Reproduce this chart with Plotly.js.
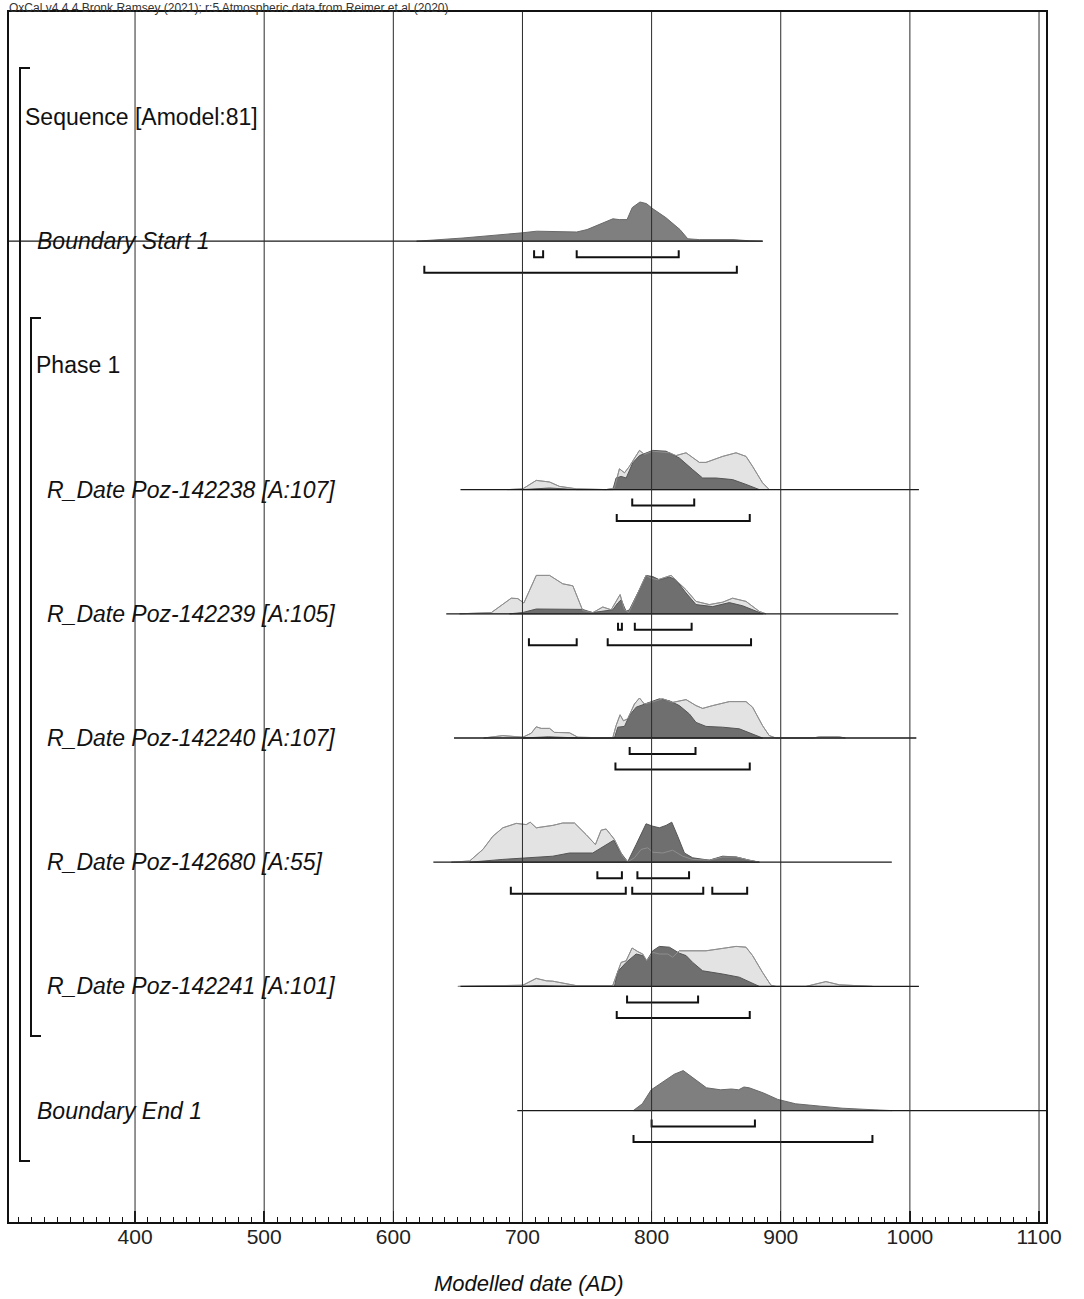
<!DOCTYPE html>
<html><head><meta charset="utf-8">
<script src="https://cdn.plot.ly/plotly-3.0.1.min.js"></script>
<style>html,body{margin:0;padding:0;background:#fff;}#chart{width:1084px;height:1299px;}</style>
</head><body><div id="chart"></div>
<script>
// ---------------- DATA ----------------
const xTickValues = [400, 500, 600, 700, 800, 900, 1000, 1100];
const headerText = "OxCal v4.4.4 Bronk Ramsey (2021); r:5 Atmospheric data from Reimer et al (2020)";
const axisTitle = "Modelled date (AD)";
const groupLabels = ["Sequence [Amodel:81]", "Phase 1"];
const itemLabels = ["Boundary Start 1", "R_Date Poz-142238 [A:107]", "R_Date Poz-142239 [A:105]",
  "R_Date Poz-142240 [A:107]", "R_Date Poz-142680 [A:55]", "R_Date Poz-142241 [A:101]", "Boundary End 1"];

// Boundary Start 1 (posterior, % of peak)
const startYears = [618, 654, 700, 711, 742, 750, 770, 775, 781, 785, 791, 796, 801, 811, 822, 828, 837, 863, 876, 886];
const startPost  = [0, 8, 21, 25, 23, 29, 56, 54, 54, 84, 98, 94, 81, 59, 29, 6, 4, 4, 1, 0];
const startLine = [250, 886];
const start68 = [[709, 716], [742, 821]];
const start95 = [[624, 866]];

// R_Date Poz-142238
const r238LikeYears = [688.5, 700.3, 710.7, 721.0, 728.7, 741.6, 764.8, 771.2, 775.1, 779.0, 782.8, 790.6, 794.4, 800.9, 813.8, 818.9, 826.7, 837.0, 842.1, 855.0, 865.4, 873.1, 878.2, 885.9, 891.1];
const r238Like = [0, 2, 23, 19, 8, 2, 0, 4, 52, 42, 58, 98, 88, 96, 92, 85, 92, 68, 68, 83, 92, 83, 58, 17, 0];
const r238PostYears = [700, 721, 742, 770, 772.5, 776.4, 780.3, 785.4, 790.6, 800.9, 811.2, 821.5, 831.8, 839.5, 849.9, 862.7, 873.1, 883.4];
const r238Post = [0, 4, 0, 0, 29, 33, 29, 67, 85, 98, 96, 79, 50, 29, 29, 25, 13, 0];
const r238Line = [652, 1007];
const r238_68 = [[785, 833]];
const r238_95 = [[773, 876]];

// R_Date Poz-142239
const r239LikeYears = [651.4, 675.9, 691.3, 696.4, 701.1, 710.7, 721.0, 731.2, 739.0, 746.7, 754.5, 762.2, 768.7, 772.5, 775.6, 779.0, 782.3, 788.0, 795.7, 799.6, 804.7, 815.1, 826.7, 834.4, 844.7, 855.0, 862.7, 873.1, 883.4, 888.5];
const r239Like = [0, 3, 39, 38, 27, 96, 96, 75, 70, 8, 3, 17, 10, 31, 48, 10, 3, 43, 96, 89, 85, 96, 60, 31, 23, 29, 39, 31, 6, 0];
const r239PostYears = [690, 700, 710.7, 746.5, 754.2, 769.9, 773.8, 776.4, 780.3, 782.8, 790.6, 795.7, 800.9, 806.1, 813.8, 818.9, 826.7, 834.4, 847.3, 860.2, 870.5, 880.8, 886.0];
const r239Post = [0, 3, 12, 11, 3, 10, 27, 35, 6, 10, 60, 96, 93, 85, 92, 85, 52, 23, 18, 28, 20, 6, 0];
const r239Line = [641, 991];
const r239_68 = [[774, 777], [787, 831]];
const r239_95 = [[705, 742], [766, 877]];

// R_Date Poz-142240
const r240LikeYears = [670, 684.8, 700.3, 706.8, 710.7, 714.5, 721.0, 724.8, 736.4, 742.9, 769.9, 772.5, 775.6, 778.2, 781.5, 786.7, 790.6, 794.4, 799.6, 808.6, 816.3, 826.7, 834.4, 839.5, 847.3, 860.2, 873.1, 878.2, 885.9, 891.1, 896.3, 925, 930, 945, 950];
const r240Like = [0, 6, 2, 12, 28, 24, 24, 14, 13, 2, 0, 31, 58, 43, 48, 85, 100, 85, 89, 98, 89, 96, 81, 74, 81, 91, 91, 77, 31, 6, 0, 0, 3, 3, 0];
const r240PostYears = [700, 720, 745, 771.2, 773.8, 779.0, 782.8, 788.0, 793.1, 798.3, 806.0, 813.8, 821.5, 829.3, 834.4, 842.1, 855.0, 867.9, 878.2, 885.9];
const r240Post = [0, 3, 0, 0, 27, 29, 56, 77, 83, 89, 98, 93, 81, 60, 39, 29, 27, 23, 10, 0];
const r240Line = [647, 1005];
const r240_68 = [[783, 834]];
const r240_95 = [[772, 876]];

// R_Date Poz-142680
const r680LikeYears = [645, 659.1, 669.4, 677.1, 684.8, 695.2, 702.9, 706.0, 710.7, 723.5, 731.2, 740.3, 749.3, 756.5, 760.9, 764.8, 771.2, 777.6, 781.5, 786.7, 791.9, 797.0, 800.9, 808.6, 816.3, 824.1, 831.8, 844.7, 855.0, 865.4, 875.6, 883.4];
const r680Like = [0, 3, 32, 65, 86, 97, 94, 100, 86, 92, 98, 98, 69, 44, 80, 83, 57, 15, 1, 11, 32, 36, 25, 23, 30, 15, 7, 5, 13, 13, 5, 0];
const r680PostYears = [659.1, 684.8, 723.5, 736.4, 754.4, 762.2, 770.7, 775.1, 781.5, 788.0, 795.7, 800.9, 806.0, 811.2, 815.6, 820.2, 825.4, 831.8, 844.7, 855.0, 865.4, 875.6, 883.4];
const r680Post = [0, 7, 15, 23, 23, 38, 55, 28, 1, 44, 96, 90, 86, 92, 100, 65, 23, 11, 5, 15, 13, 5, 0];
const r680Line = [631, 986];
const r680_68 = [[758, 777], [789, 829]];
const r680_95 = [[691, 780], [785, 840], [847, 874]];

// R_Date Poz-142241
const r241LikeYears = [650, 677.1, 700.3, 710.7, 718.4, 723.5, 731.2, 741.6, 769.9, 773.8, 776.4, 780.3, 784.9, 789.3, 793.1, 796.2, 800.9, 806.0, 812.5, 816.3, 821.5, 834.4, 842.1, 855.0, 865.4, 873.1, 878.2, 885.9, 892.4, 896.3, 919.5, 935.0, 945.3, 971.0];
const r241Like = [0, 2, 3, 20, 14, 13, 8, 2, 2, 35, 60, 64, 96, 87, 81, 64, 85, 81, 81, 73, 89, 89, 89, 95, 100, 98, 77, 35, 3, 0, 0, 12, 4, 0];
const r241PostYears = [700, 711, 740, 771.2, 773.8, 780.3, 788.0, 793.1, 796.2, 800.9, 806.0, 813.8, 821.5, 826.7, 831.8, 839.5, 855.0, 867.9, 883.4];
const r241Post = [0, 2, 0, 0, 37, 60, 81, 77, 64, 89, 100, 98, 83, 77, 60, 39, 31, 23, 0];
const r241Line = [652, 1007];
const r241_68 = [[781, 836]];
const r241_95 = [[773, 876]];

// Boundary End 1
const endYears = [785.8, 792.8, 799.7, 809.4, 817.6, 824.5, 831.5, 842.5, 853.5, 861.8, 867.4, 871.5, 875.6, 886.7, 897.7, 911.5, 930.9, 947.5, 972.3, 986.2];
const endPost  = [0, 17, 52, 74, 91, 100, 83, 57, 52, 54, 52, 59, 57, 44, 28, 17, 11, 6, 2, 0];
const endLine = [696, 1200];
const end68 = [[800, 880]];
const end95 = [[786, 971]];

// ---------------- LAYOUT CONSTANTS ----------------
const W = 1084, Hpx = 1299;
const M = {l: 9, r: 38, t: 12, b: 77};
const plotW = W - M.l - M.r, plotH = Hpx - M.t - M.b;
const ROW_PX = 124.2, ROW0_PX = 117;           // pixel y of row index 0
const yTop = (M.t - ROW0_PX) / ROW_PX;
const yBot = (Hpx - M.b - ROW0_PX) / ROW_PX;
const PEAK = 40 / ROW_PX;                        // height of a 100% peak, in row units
const OFF68 = 16 / ROW_PX, OFF95 = 31.5 / ROW_PX, CAP = 7 / ROW_PX;
const FONT = "Liberation Sans, Arial, sans-serif";
const px2paperX = p => (p - M.l) / plotW;
const px2paperY = p => (Hpx - M.b - p) / plotH;

const rows = [
  {row: 1, label: itemLabels[0], lx: 35, post: [startYears, startPost], like: null, line: startLine, r68: start68, r95: start95, boundary: true},
  {row: 3, label: itemLabels[1], lx: 45, post: [r238PostYears, r238Post], like: [r238LikeYears, r238Like], line: r238Line, r68: r238_68, r95: r238_95},
  {row: 4, label: itemLabels[2], lx: 45, post: [r239PostYears, r239Post], like: [r239LikeYears, r239Like], line: r239Line, r68: r239_68, r95: r239_95},
  {row: 5, label: itemLabels[3], lx: 45, post: [r240PostYears, r240Post], like: [r240LikeYears, r240Like], line: r240Line, r68: r240_68, r95: r240_95},
  {row: 6, label: itemLabels[4], lx: 45, post: [r680PostYears, r680Post], like: [r680LikeYears, r680Like], line: r680Line, r68: r680_68, r95: r680_95},
  {row: 7, label: itemLabels[5], lx: 45, post: [r241PostYears, r241Post], like: [r241LikeYears, r241Like], line: r241Line, r68: r241_68, r95: r241_95},
  {row: 8, label: itemLabels[6], lx: 35, post: [endYears, endPost], like: null, line: endLine, r68: end68, r95: end95, boundary: true}
];

function polygon(xs, hs, row) {
  return {
    x: xs.concat([xs[xs.length - 1], xs[0]]),
    y: hs.map(h => row - h / 100 * PEAK).concat([row, row])
  };
}

const likeFills = [], postFills = [], likeLines = [];
rows.forEach(r => {
  if (r.like) {
    const p = polygon(r.like[0], r.like[1], r.row);
    likeFills.push({type: 'scatter', mode: 'lines', x: p.x, y: p.y, fill: 'toself', fillcolor: '#e3e3e3',
      line: {color: '#9a9a9a', width: 1}, hoverinfo: 'skip', showlegend: false});
    likeLines.push({type: 'scatter', mode: 'lines', x: r.like[0], y: r.like[1].map(h => r.row - h / 100 * PEAK),
      line: {color: '#8e8e8e', width: 1}, hoverinfo: 'skip', showlegend: false});
  }
  const q = polygon(r.post[0], r.post[1], r.row);
  postFills.push({type: 'scatter', mode: 'lines', x: q.x, y: q.y, fill: 'toself',
    fillcolor: r.boundary ? '#7f7f7f' : '#6f6f6f',
    line: {color: r.boundary ? '#6a6a6a' : '#555555', width: 1}, hoverinfo: 'skip', showlegend: false});
});

// baselines
const bx = [], by = [];
rows.forEach(r => { bx.push(r.line[0], r.line[1], null); by.push(r.row, r.row, null); });
const baseTrace = {type: 'scatter', mode: 'lines', x: bx, y: by, line: {color: '#1a1a1a', width: 1.3}, hoverinfo: 'skip', showlegend: false};

// range brackets
const kx = [], ky = [];
rows.forEach(r => {
  [[r.r68, OFF68], [r.r95, OFF95]].forEach(([ranges, off]) => {
    const y = r.row + off;
    ranges.forEach(([a, b]) => {
      kx.push(a, a, b, b, null);
      ky.push(y - CAP, y, y, y - CAP, null);
    });
  });
});
const bracketTrace = {type: 'scatter', mode: 'lines', x: kx, y: ky, line: {color: '#111', width: 2}, hoverinfo: 'skip', showlegend: false};

// annotations
const ann = [];
ann.push({xref: 'paper', yref: 'paper', x: px2paperX(8), y: px2paperY(0), xanchor: 'left', yanchor: 'top', borderpad: 0,
  text: headerText, showarrow: false, font: {family: FONT, size: 12, color: '#333'}});
ann.push({xref: 'paper', yref: 'y', x: px2paperX(23), y: 0, xanchor: 'left', yanchor: 'middle',
  text: groupLabels[0], showarrow: false, font: {family: FONT, size: 23, color: '#111'}});
ann.push({xref: 'paper', yref: 'y', x: px2paperX(34), y: 2, xanchor: 'left', yanchor: 'middle',
  text: groupLabels[1], showarrow: false, font: {family: FONT, size: 23, color: '#111'}});
rows.forEach(r => {
  ann.push({xref: 'paper', yref: 'y', x: px2paperX(r.lx), y: r.row, xanchor: 'left', yanchor: 'middle',
    text: '<i>' + r.label + '</i>', showarrow: false, font: {family: FONT, size: 23, color: '#111'}});
});
ann.push({xref: 'paper', yref: 'paper', x: px2paperX(529), y: px2paperY(1283), xanchor: 'center', yanchor: 'middle',
  text: '<i>' + axisTitle + '</i>', showarrow: false, font: {family: FONT, size: 22, color: '#111'}});

// shapes: gridlines above traces, group brackets
const shapes = [];
xTickValues.forEach(v => shapes.push({type: 'line', xref: 'x', yref: 'paper', x0: v, x1: v, y0: 0, y1: 1,
  line: {color: '#2a2a2a', width: 1}, layer: 'above'}));
function groupBracket(xpx, capPx, y0, y1) {
  const xa = px2paperX(xpx), xb = px2paperX(xpx + capPx);
  const st = {color: '#111', width: 2};
  shapes.push({type: 'path', xref: 'paper', yref: 'y',
    path: `M ${xb},${y0} L ${xa},${y0} L ${xa},${y1} L ${xb},${y1}`, line: st, layer: 'above'});
}
groupBracket(20, 10, (68 - ROW0_PX) / ROW_PX, (1161 - ROW0_PX) / ROW_PX);
groupBracket(31, 10, (318 - ROW0_PX) / ROW_PX, (1036 - ROW0_PX) / ROW_PX);

const layout = {
  width: W, height: Hpx,
  margin: M,
  paper_bgcolor: '#fff', plot_bgcolor: '#fff',
  showlegend: false,
  xaxis: {
    range: [302.4, 1105.4], tickmode: 'linear', tick0: 0, dtick: 100,
    ticks: 'inside', ticklen: 11, tickwidth: 1.5, tickcolor: '#111',
    minor: {tickmode: 'linear', tick0: 0, dtick: 10, ticks: 'inside', ticklen: 5, tickwidth: 1, tickcolor: '#111', showgrid: false},
    showgrid: false, zeroline: false, showline: true, mirror: true, linecolor: '#111', linewidth: 2,
    ticklabelstandoff: -5,
    tickfont: {family: FONT, size: 21, color: '#222'}, fixedrange: true
  },
  yaxis: {
    range: [yBot, yTop], showgrid: false, zeroline: false, showticklabels: false, ticks: '',
    showline: true, mirror: true, linecolor: '#111', linewidth: 2, fixedrange: true
  },
  shapes: shapes,
  annotations: ann
};

const data = [].concat(likeFills, postFills, likeLines, [baseTrace, bracketTrace]);
Plotly.newPlot('chart', data, layout, {displayModeBar: false, staticPlot: true});
</script>
</body></html>
